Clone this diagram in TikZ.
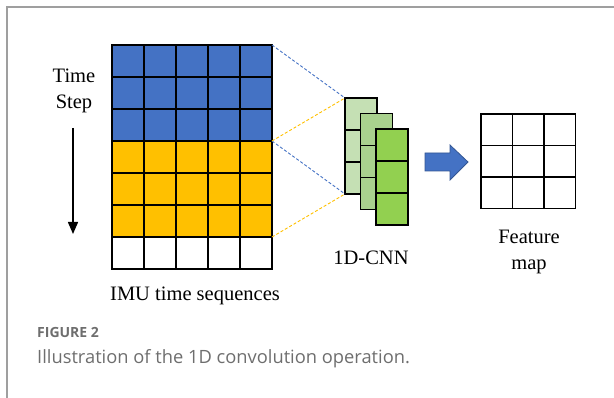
\documentclass[tikz,border=0pt]{standalone}
\usepackage{fontspec}
\setmainfont{Liberation Serif}
\newfontfamily\capfont{Open Sans}
\usepackage{tikz}
\usetikzlibrary{positioning, arrows.meta}

\definecolor{seqblue}{HTML}{4472C4}
\definecolor{seqyellow}{HTML}{FFC000}
\definecolor{kerlight}{HTML}{C5E0B4}
\definecolor{kermid}{HTML}{A9D18E}
\definecolor{kerdark}{HTML}{92D050}
\definecolor{capgray}{HTML}{6E6E6E}

\begin{document}
\begin{tikzpicture}[x=1pt, y=-1pt,
    cell/.style={rectangle, draw=black, line width=1.6pt, minimum size=32pt, inner sep=0pt, outer sep=0pt},
    fcell/.style={cell, minimum size=31.5pt},
    lbl/.style={font=\fontsize{20.5}{26}\selectfont, align=center, inner sep=0pt},
    window/.style={dash pattern=on 3pt off 2pt, line width=0.9pt}
]
\useasboundingbox (0,0) rectangle (614,398);
\draw[gray!75, line width=1.4pt] (7,398) -- (7,7) -- (614,7);

% input: 7 time steps x 5 channels
\foreach \r in {1,...,7}{
  \foreach \c in {1,...,5}{
    \ifnum\r<4 \def\col{seqblue}\else\ifnum\r<7 \def\col{seqyellow}\else\def\col{white}\fi\fi
    \node[cell, fill=\col] (s-\r-\c) at (96+32*\c, 29+32*\r) {};
  }
}

% stacked 1D kernels
\foreach \k/\col [count=\i] in {0/kerlight, 15.5/kermid, 31/kerdark}{
  \foreach \r in {1,2,3}{
    \node[cell, fill=\col] (k\i-\r) at (361+\k, 82+\k+32*\r) {};
  }
}

% receptive windows
\draw[window, seqblue] (s-1-5.north east) -- (k1-1.north west);
\draw[window, seqblue] (s-3-5.south east) -- (k1-3.south west);
\draw[window, seqyellow] (s-4-5.north east) -- (k1-1.north west);
\draw[window, seqyellow] (s-6-5.south east) -- (k1-3.south west);

% output map
\foreach \r in {1,2,3}{
  \foreach \c in {1,2,3}{
    \node[fcell, fill=white] (f-\r-\c) at (465.25+31.5*\c, 98.25+31.5*\r) {};
  }
}

% block arrow
\fill[seqblue, draw=seqblue!75!black, line width=0.8pt] (425,153) -- (450,153) -- (450,145) -- (468,162)
  -- (450,180) -- (450,171) -- (425,171) -- cycle;

\node[lbl] (tstep) at (74,91) {Time\\Step};
\coordinate (tbeg) at (73,128);
\coordinate (tend) at (73,234);
\draw[line width=1.5pt, -{Triangle[length=12pt, width=10pt]}] (tbeg) -- (tend);

\node[lbl] (cnn) at (371,258) {1D-CNN};
\node[lbl] (fmap) at (529,252) {Feature\\map};
\node[lbl] (imu) at (195,296) {IMU time sequences};

\node[anchor=west, inner sep=0pt, text=capgray, font=\capfont\bfseries\fontsize{14}{16}\selectfont] (fig) at (37,333) {FIGURE 2};
\node[anchor=west, inner sep=0pt, text=capgray, font=\capfont\fontsize{18.3}{20}\selectfont] (cap) at (37,359) {Illustration of the 1D convolution operation.};
\end{tikzpicture}
\end{document}
